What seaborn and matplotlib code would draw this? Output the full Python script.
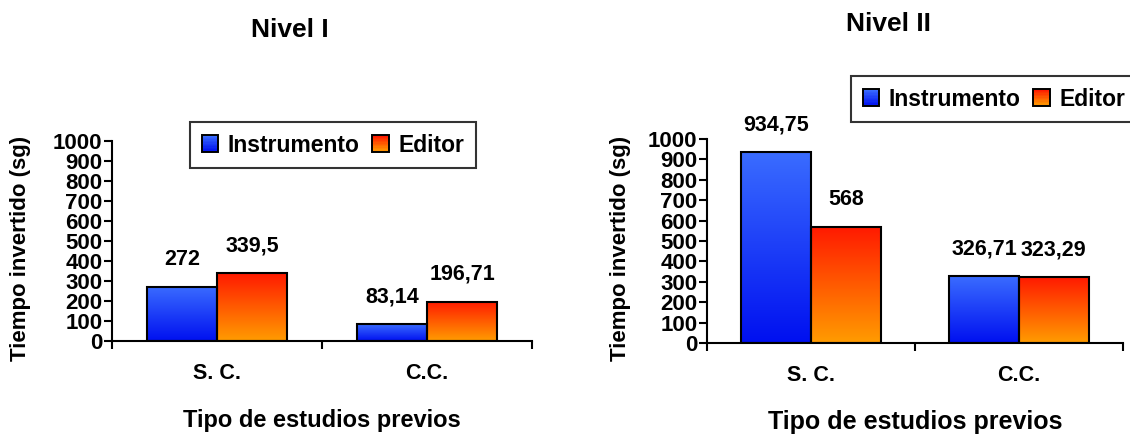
import numpy as np
import pandas as pd
import matplotlib
matplotlib.use("Agg")
import matplotlib.pyplot as plt
from matplotlib.patches import Rectangle
from matplotlib.legend_handler import HandlerBase
from matplotlib.colors import LinearSegmentedColormap
import seaborn as sns

# ---- data ----
categorias = ["S. C.", "C.C."]
series = ["Instrumento", "Editor"]
nivel1_instrumento = [272, 83.14]
nivel1_editor = [339.5, 196.71]
nivel2_instrumento = [934.75, 326.71]
nivel2_editor = [568, 323.29]
etiquetas_n1 = {"Instrumento": ["272", "83,14"], "Editor": ["339,5", "196,71"]}
etiquetas_n2 = {"Instrumento": ["934,75", "326,71"], "Editor": ["568", "323,29"]}
yticks = list(range(0, 1001, 100))

sns.set_theme(style="white")
plt.rcParams["font.family"] = ["Liberation Sans", "DejaVu Sans"]
plt.rcParams["font.weight"] = "bold"
for key in ["text.color", "axes.labelcolor", "xtick.color", "ytick.color"]:
    plt.rcParams[key] = "black"

# gradient colours: (top, bottom)
grad = {
    "Instrumento": ("#3a6cff", "#0010f0"),
    "Editor": ("#ff1a00", "#ff9c00"),
}
cmaps = {k: LinearSegmentedColormap.from_list(k, [v[1], v[0]]) for k, v in grad.items()}


def frame(inst, edit):
    return pd.DataFrame({
        "cat": categorias * 2,
        "serie": [series[0]] * 2 + [series[1]] * 2,
        "valor": list(inst) + list(edit),
    })


class GradientHandler(HandlerBase):
    def __init__(self, name):
        super().__init__()
        self.name = name

    def create_artists(self, legend, orig_handle, xdescent, ydescent,
                       width, height, fontsize, trans):
        side = height
        x0 = -xdescent + (width - side) / 2
        y0 = -ydescent
        arts = []
        n = 12
        cmap = cmaps[self.name]
        for i in range(n):
            r = Rectangle((x0, y0 + side * i / n), side, side / n + 0.3,
                          facecolor=cmap(i / (n - 1)), edgecolor="none",
                          transform=trans)
            arts.append(r)
        arts.append(Rectangle((x0, y0), side, side, facecolor="none",
                              edgecolor="black", lw=1.4, transform=trans))
        return arts


def panel(ax, inst, edit, labels, title, title_xy, yl_x, xl_size, xl_y, legend_box):
    df = frame(inst, edit)
    sns.barplot(data=df, x="cat", y="valor", hue="serie", hue_order=series,
                order=categorias, palette=[grad[s][0] for s in series],
                width=0.67, gap=0, dodge=True, ax=ax, legend=False,
                edgecolor="black", linewidth=1.5, errorbar=None)
    # gradient fill clipped to each bar
    patches = list(ax.patches)
    grid = np.linspace(0, 1, 256).reshape(-1, 1)
    for i, p in enumerate(patches):
        name = series[i // len(categorias)]
        x, y = p.get_x(), p.get_y()
        w, h = p.get_width(), p.get_height()
        im = ax.imshow(grid, cmap=cmaps[name], origin="lower", aspect="auto",
                       extent=(x, x + w, y, y + h), zorder=p.get_zorder() - 0.1,
                       interpolation="bilinear")
        im.set_clip_path(p)
        p.set_facecolor("none")
        k = i % len(categorias)
        ax.annotate(labels[name][k], (x + w / 2, y + h), xytext=(0, 17),
                    textcoords="offset pixels", ha="center", va="bottom",
                    fontsize=15.5, fontweight="bold")
    ax.set_xlim(-0.5, 1.5)
    ax.set_ylim(0, 1000)
    ax.set_yticks(yticks)
    ax.set_yticklabels([str(t) for t in yticks], fontsize=16, fontweight="bold")
    ax.set_xticks([0, 1])
    ax.set_xticklabels(categorias, fontsize=15.5, fontweight="bold")
    ax.set_xticks([-0.5, 0.5, 1.5], minor=True)
    ax.tick_params(axis="x", which="major", length=0, pad=16)
    ax.tick_params(axis="x", which="minor", length=6, width=1.5, direction="out",
                   bottom=True)
    ax.tick_params(axis="y", which="major", length=6, width=1.5, direction="out",
                   left=True, pad=1)
    for s in ["top", "right"]:
        ax.spines[s].set_visible(False)
    for s in ["left", "bottom"]:
        ax.spines[s].set_color("black")
        ax.spines[s].set_linewidth(1.5)
    ax.set_ylabel("Tiempo invertido (sg)", fontsize=16, fontweight="bold")
    ax.yaxis.set_label_coords(yl_x, 0.465)
    ax.set_xlabel("Tipo de estudios previos", fontsize=xl_size, fontweight="bold",
                  va="center")
    ax.xaxis.set_label_coords(0.5, xl_y)
    ax.set_title(title, fontsize=19, fontweight="bold", x=title_xy[0],
                 y=title_xy[1], va="center", pad=0)
    leg_handles = [Rectangle((0, 0), 1, 1) for _ in series]
    leg = ax.legend(leg_handles, series, loc="lower left",
                    bbox_to_anchor=legend_box, bbox_transform=fig.transFigure,
                    ncol=2, frameon=True, fancybox=False,
                    prop={"weight": "bold", "size": 16.5},
                    handler_map={leg_handles[0]: GradientHandler(series[0]),
                                 leg_handles[1]: GradientHandler(series[1])},
                    handlelength=0.75, handleheight=0.75, handletextpad=0.4,
                    columnspacing=0.55, borderpad=0.5, borderaxespad=0)
    leg.get_frame().set_edgecolor("black")
    leg.get_frame().set_linewidth(1.5)


W, H = 1130, 436
fig = plt.figure(figsize=(W / 100, H / 100), dpi=100)
ax1 = fig.add_axes([112 / W, 1 - 341 / H, 420 / W, 200 / H])
ax2 = fig.add_axes([707 / W, 1 - 343 / H, 416 / W, 204 / H])

panel(ax1, nivel1_instrumento, nivel1_editor, etiquetas_n1, "Nivel I",
      (0.424, 1.555), -0.193, 17, -0.395, (190 / W, 1 - 168 / H))
panel(ax2, nivel2_instrumento, nivel2_editor, etiquetas_n2, "Nivel II",
      (0.435, 1.564), -0.183, 18, -0.387, (851 / W, 1 - 122 / H))

fig.savefig("out.png", dpi=100, facecolor="white")
